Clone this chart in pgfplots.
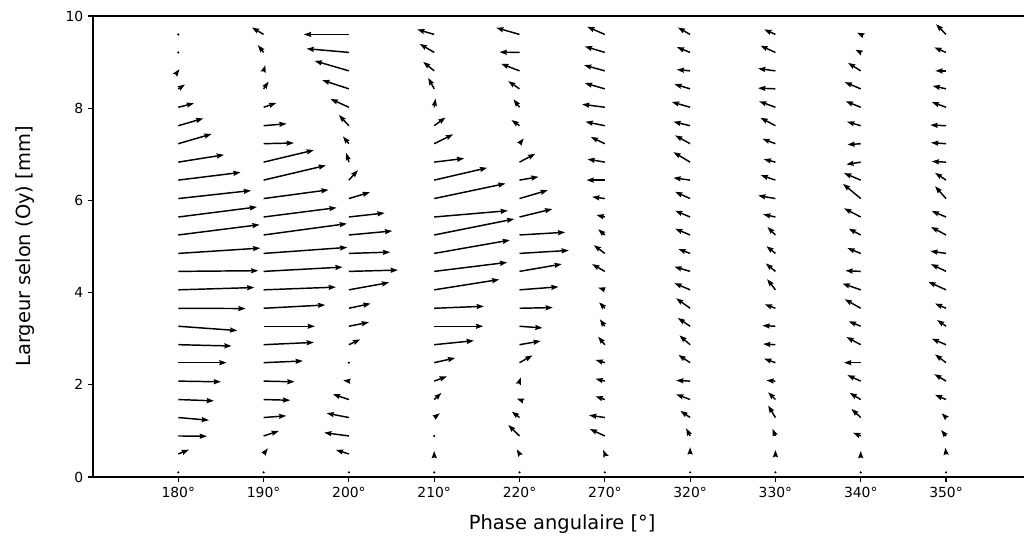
\documentclass[border=0pt]{standalone}
\usepackage{fontspec}
\setmainfont{DejaVu Sans}
\usepackage{pgfplots}
\usepackage{pgfplotstable}
\pgfplotsset{compat=1.18}
\usetikzlibrary{arrows.meta}

% arrows: x = category index, y = position [mm], u,v = vector components (screen-proportional units)
\pgfplotstableread{
x y u v
0 0.50 10.7 4.3
0 0.89 28.7 -0.3
0 1.29 30.7 -2.7
0 1.68 35.7 -1.3
0 2.08 42.7 -0.7
0 2.48 48.3 0
0 2.87 53.3 -1.3
0 3.27 59.0 -4.3
0 3.66 67.3 -0.3
0 4.06 76.0 2.3
0 4.46 80.0 0.7
0 4.85 82.0 5.3
0 5.25 81.3 10.3
0 5.64 78.7 10.0
0 6.04 72.7 8.0
0 6.44 62.3 7.7
0 6.83 45.7 7.3
0 7.23 33.3 9.7
0 7.62 25.0 7.3
0 8.02 15.7 4.0
0 8.42 6.7 4.3
0 8.81 1.2 1.6
1 0.50 4.3 5.7
1 0.89 15.3 5.0
1 1.29 22.7 1.7
1 1.68 26.7 -0.7
1 2.08 31.0 -0.7
1 2.48 39.3 1.7
1 2.87 50.3 2.3
1 3.27 51.3 0
1 3.66 61.7 3.3
1 4.06 72.3 2.7
1 4.46 79.0 4.3
1 4.85 83.7 6.0
1 5.25 83.3 11.3
1 5.64 73.0 9.3
1 6.04 65.0 8.7
1 6.44 62.3 14.7
1 6.83 50.3 12.0
1 7.23 30.3 0.7
1 7.62 23.0 2.0
1 8.02 12.7 4.3
1 8.42 5.0 7.3
1 8.81 1.7 5.7
1 9.21 -5.7 7.3
1 9.60 -11.7 7.0
2 0.50 -13.0 4.0
2 0.89 -24.7 3.3
2 1.29 -22.3 4.3
2 1.68 -16.0 5.3
2 2.08 -5.7 0.7
2 2.87 11.3 5.3
2 3.27 20.0 4.0
2 3.66 21.7 4.7
2 4.06 40.3 7.3
2 4.46 49.0 1.3
2 4.85 41.3 1.3
2 5.25 43.3 4.0
2 5.64 35.7 4.0
2 6.04 21.0 6.3
2 6.44 9.0 10.0
2 6.83 -2.7 9.3
2 7.23 -6.0 7.3
2 7.62 -10.0 10.7
2 8.02 -18.3 8.3
2 8.42 -26.7 8.7
2 8.81 -34.3 10.0
2 9.21 -42.3 3.7
2 9.60 -45.0 0
3 0.50 0 3.0
3 1.29 5.7 4.3
3 1.68 7.3 6.7
3 2.08 12.7 4.7
3 2.48 21.0 4.7
3 2.87 39.7 4.0
3 3.27 49.0 0
3 3.66 49.7 2.0
3 4.06 65.0 10.3
3 4.46 73.0 9.0
3 4.85 75.7 13.3
3 5.25 80.0 16.0
3 5.64 73.7 6.3
3 6.04 71.3 15.0
3 6.44 53.0 12.3
3 6.83 30.0 3.7
3 7.23 19.0 9.3
3 7.62 11.3 8.3
3 8.02 1.3 8.7
3 8.42 -6.0 11.0
3 8.81 -11.0 9.0
3 9.21 -14.5 8.5
3 9.60 -17.0 5.0
4 0.50 -2.7 4.7
4 0.89 -11.3 11.0
4 1.29 -7.7 6.0
4 1.68 -2.7 1.0
4 2.08 1.3 3.7
4 2.48 13.0 7.3
4 2.87 21.3 3.7
4 3.27 23.0 -1.7
4 3.66 33.3 0.7
4 4.06 39.0 3.0
4 4.46 42.3 7.3
4 4.85 49.3 3.0
4 5.25 45.7 2.7
4 5.64 32.7 8.0
4 6.04 28.3 8.3
4 6.44 19.0 3.3
4 6.83 15.7 8.3
4 7.23 4.3 5.3
4 7.62 -8.0 5.7
4 8.02 -6.0 8.0
4 8.42 -11.3 7.7
4 8.81 -18.3 7.0
4 9.21 -20.0 0.3
4 9.60 -23.3 6.7
5 0.50 -1.7 4.0
5 0.89 -15.0 7.0
5 1.29 -15.7 2.3
5 1.68 -9.3 3.3
5 2.08 -9.3 2.3
5 2.48 -9.3 2.7
5 2.87 -6.7 8.0
5 3.27 -5.0 7.0
5 3.66 -5.7 6.0
5 4.06 -6.7 2.3
5 4.46 -12.7 7.3
5 4.85 -11.0 8.3
5 5.25 -6.7 5.7
5 5.64 -8.3 2.0
5 6.04 -12.7 1.7
5 6.44 -18.3 0
5 6.83 -17.3 3.0
5 7.23 -14.0 6.7
5 7.62 -19.3 4.0
5 8.02 -22.7 3.0
5 8.42 -20.0 5.7
5 8.81 -20.7 5.7
5 9.21 -20.0 6.0
5 9.60 -17.7 7.7
6 0.50 0 6.7
6 0.89 -4.0 7.7
6 1.29 -9.7 6.7
6 1.68 -14.0 5.3
6 2.08 -14.0 0.7
6 2.48 -11.7 7.7
6 2.87 -10.7 9.3
6 3.27 -12.3 8.3
6 3.66 -14.0 10.0
6 4.06 -15.7 6.7
6 4.46 -15.7 4.7
6 4.85 -11.7 4.3
6 5.25 -15.0 6.3
6 5.64 -15.0 6.3
6 6.04 -15.0 6.7
6 6.44 -16.7 2.3
6 6.83 -16.7 10.0
6 7.23 -15.0 8.3
6 7.62 -16.7 4.0
6 8.02 -18.3 5.3
6 8.42 -15.7 4.7
6 8.81 -13.3 1.3
6 9.21 -13.3 5.3
6 9.60 -12.3 7.0
7 0.50 0 4.0
7 0.89 -3.0 7.3
7 1.29 -7.3 12.0
7 1.68 -7.3 7.3
7 2.08 -9.0 0.7
7 2.48 -11.3 4.0
7 2.87 -12.3 0.7
7 3.27 -13.0 0.7
7 3.66 -10.7 4.0
7 4.06 -8.3 10.7
7 4.46 -9.7 8.0
7 4.85 -9.0 7.3
7 5.25 -8.0 8.0
7 5.64 -12.3 2.7
7 6.04 -17.3 3.0
7 6.44 -14.7 5.0
7 6.83 -11.7 3.0
7 7.23 -13.0 5.0
7 7.62 -15.0 8.0
7 8.02 -16.3 6.0
7 8.42 -17.3 0.7
7 8.81 -17.3 2.3
7 9.21 -15.0 6.7
7 9.60 -11.3 5.0
8 0.50 0 3.0
8 0.89 -7.7 3.3
8 1.29 -9.3 8.7
8 1.68 -11.0 6.7
8 2.08 -13.3 6.0
8 2.48 -16.7 0
8 2.87 -14.3 7.7
8 3.27 -12.0 5.0
8 3.66 -16.0 9.0
8 4.06 -18.3 6.3
8 4.46 -15.3 0.7
8 4.85 -13.3 5.3
8 5.25 -12.0 6.3
8 5.64 -16.7 8.7
8 6.04 -17.7 14.7
8 6.44 -16.7 7.0
8 6.83 -14.3 -2.3
8 7.23 -13.3 -1.0
8 7.62 -13.7 4.0
8 8.02 -15.0 6.0
8 8.42 -16.0 6.7
8 8.81 -12.7 8.0
8 9.21 -5.3 2.7
8 9.60 -3.7 1.7
9 0.50 -0.7 6.3
9 0.89 -5.0 6.0
9 1.29 -4.3 4.3
9 1.68 -11.0 4.7
9 2.08 -11.7 7.0
9 2.48 -11.0 8.3
9 2.87 -14.3 6.0
9 3.27 -9.0 6.3
9 3.66 -11.0 4.7
9 4.06 -17.7 8.0
9 4.46 -15.0 7.3
9 4.85 -15.7 2.3
9 5.25 -15.0 8.0
9 5.64 -14.3 6.0
9 6.04 -11.0 12.3
9 6.44 -11.0 7.3
9 6.83 -14.3 0.7
9 7.23 -15.0 1.0
9 7.62 -15.7 0.7
9 8.02 -14.3 5.3
9 8.42 -13.3 3.0
9 8.81 -10.7 0
9 9.21 -11.7 5.0
9 9.60 -10.0 10.3
}\arrowtable

% near-zero vectors (drawn as dots)
\pgfplotstableread{
x y
0 0.10
1 0.10
2 0.10
3 0.10
4 0.10
5 0.10
6 0.10
7 0.10
8 0.10
9 0.10
0 10.0
1 10.0
2 10.0
3 10.0
4 10.0
5 10.0
6 10.0
7 10.0
8 10.0
9 10.0
0 9.21
0 9.60
2 2.48
3 0.89
}\dottable

\begin{document}
\begin{tikzpicture}
\begin{axis}[
  at={(0,0)}, anchor=south west,
  scale only axis,
  width=675.6pt, height=331.92pt,
  xmin=-1, xmax=10, ymin=0, ymax=10,
  xtick={0,1,2,3,4,5,6,7,8,9},
  xticklabels={180°,190°,200°,210°,220°,270°,320°,330°,340°,350°},
  ytick={0,2,4,6,8,10},
  /pgf/number format/assume math mode=true,
  tick label style={font=\fontsize{10}{12}\selectfont},
  xtick pos=bottom, ytick pos=left,
  tick align=outside,
  major tick length=3.5pt,
  tick style={black, line width=0.8pt},
  axis line style={line width=0.8pt},
  xlabel={Phase angulaire [°]},
  ylabel={Largeur selon (Oy) [mm]},
  label style={font=\fontsize{14}{17}\selectfont},
  xlabel style={at={(axis description cs:0.5,-0.1134)}, anchor=base},
  ylabel style={at={(axis description cs:-0.0661,0.5)}, anchor=base, rotate=0},
]
\addplot[black, line width=1.05pt,
  -{Stealth[length=5.2pt, width=3.6pt, inset=0.6pt]},
  quiver={u=\thisrow{u}/85.3, v=\thisrow{v}/46.1}]
  table[x=x, y=y] {\arrowtable};
\addplot[only marks, mark=*, mark size=0.55pt, black] table[x=x, y=y] {\dottable};
\end{axis}
\pgfresetboundingbox
\path[use as bounding box] (-66.96pt,-45.36pt) rectangle (670.32pt,343.44pt);
\end{tikzpicture}
\end{document}
